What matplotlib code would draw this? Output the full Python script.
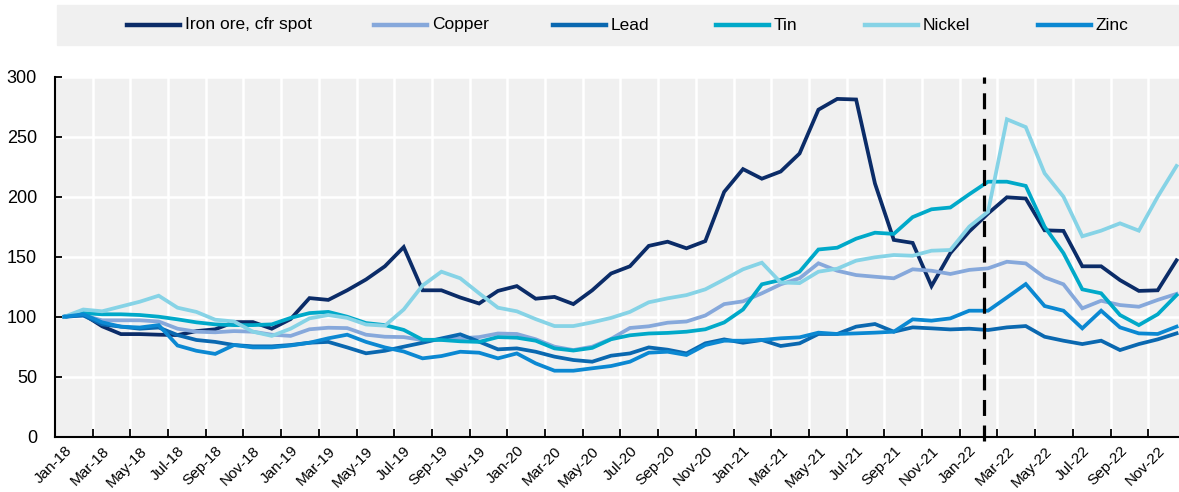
import numpy as np
import matplotlib
matplotlib.use("Agg")
import matplotlib.pyplot as plt
from matplotlib.lines import Line2D
from matplotlib.patches import Rectangle

plt.rcParams['font.family'] = ['Liberation Sans', 'DejaVu Sans']

# monthly index, Jan-18 = 100
months = [f"{m}-{y}" for y in range(18, 23)
          for m in ["Jan", "Feb", "Mar", "Apr", "May", "Jun",
                    "Jul", "Aug", "Sep", "Oct", "Nov", "Dec"]]

iron_ore = [100, 102, 92, 85.5, 85.5, 85, 84.7, 88, 89.5, 95.5, 95.5, 90,
            98, 115.5, 114, 122, 131, 142, 158, 122, 122, 116, 111, 121.5,
            125.5, 115, 116.5, 110.5, 122, 136, 142, 159, 162.5, 157, 163, 204,
            223, 215, 221, 236, 272.5, 281.5, 281, 211, 164, 161.5, 125.5, 153,
            171, 186, 199.5, 198.5, 172, 171.5, 142, 142, 130.5, 121.5, 122, 147]
copper = [100, 101, 97, 97, 97, 96, 90, 87.5, 87, 88, 87.5, 85,
          84, 89.5, 90.8, 90.5, 85, 83.3, 83, 80.5, 81, 82, 83, 86,
          85.6, 81.2, 75, 72.2, 75, 81.5, 90.6, 92, 95, 96, 101, 110.5,
          112.8, 119.5, 127, 132, 144.5, 138.3, 134.7, 133.3, 132, 139.5, 138.3, 135.6,
          139, 140.3, 145.8, 144.4, 132.8, 127, 107, 113.3, 109.7, 108.3, 114, 119]
lead = [100, 101, 93.6, 91.7, 90, 91, 84.7, 80.6, 79, 76.4, 75.3, 75.3,
        76.4, 78.3, 79, 74.4, 69.5, 71.6, 75, 78.3, 81.9, 85.3, 79.2, 72.8,
        73.6, 70.8, 66.7, 63.9, 62.5, 67.5, 69.4, 74.4, 72.5, 69.4, 77.8, 81.1,
        78.3, 80.6, 75.6, 77.8, 85.6, 85.6, 91.7, 93.9, 87.5, 91.1, 90.3, 89.4,
        90, 88.9, 91.1, 92.2, 83.3, 80, 77.2, 80, 72.2, 77.2, 81.1, 86.1]
tin = [100, 103, 102, 102, 101.4, 100, 97.8, 95.3, 93.6, 93, 93, 93.6,
       99, 103, 104, 100, 94.7, 93, 89, 80.8, 80.6, 79.5, 79, 83,
       82.5, 80, 73.6, 71.8, 74, 81.2, 84.5, 86, 86.5, 87.5, 89.5, 95.2,
       106, 127, 130.6, 137.5, 156, 157.5, 165, 170, 169, 183, 189.5, 191,
       202, 212.5, 212.5, 209, 175, 153, 122.8, 119.5, 101.4, 93, 102, 118]
nickel = [100, 106, 104.5, 108.5, 112.5, 117.5, 107.5, 104, 97.5, 96, 87.5, 84,
          90, 98.6, 101.4, 99, 93.5, 92.5, 106, 126, 137.5, 132, 119.5, 107.5,
          104.5, 98, 92.2, 92.2, 95.3, 99, 104, 112, 115.3, 118, 122.8, 131,
          139.5, 145, 128.5, 128, 137.5, 140, 146.7, 149.5, 151.4, 150.8, 155, 155.6,
          175, 187.5, 264.5, 258, 219.5, 200, 167, 171.7, 177.8, 171.7, 200, 225.6]
zinc = [100, 102, 95.3, 91.7, 91, 93, 76, 71.6, 69, 76.4, 74.4, 74.4,
        76, 78.3, 82, 85, 79, 74.4, 71, 65.3, 67.2, 70.8, 70, 65.3,
        69.4, 61.1, 55, 55, 57, 58.9, 62.5, 70, 70.8, 68.1, 76.4, 80,
        80, 80.6, 82, 82.8, 86.7, 85.6, 86.1, 86.7, 87.5, 97.8, 96.7, 98.6,
        105, 105, 116, 127.2, 108.9, 105, 90.3, 105, 91.1, 86.1, 85.6, 91.7]

series = [("Iron ore, cfr spot", iron_ore, "#0b2c68"),
          ("Copper", copper, "#86a8db"),
          ("Lead", lead, "#0a68b0"),
          ("Tin", tin, "#00a9c9"),
          ("Nickel", nickel, "#86d3e6"),
          ("Zinc", zinc, "#0b88d2")]
event_pos = 48.77  # late Feb-22

W, H = 1179, 492
fig = plt.figure(figsize=(W / 100, H / 100), dpi=100)
ax = fig.add_axes([55 / W, (H - 436.7) / H, (W - 55) / W, 360 / H])
ax.set_facecolor("#f0f0f0")

x = np.arange(len(months))
for name, vals, col in series:
    ax.plot(x, vals, color=col, lw=2.7, solid_joinstyle="miter", zorder=3)

ax.axvline(event_pos, ymin=-0.012, ymax=1, color="black", lw=2.3,
           linestyle=(0, (5, 3)), clip_on=False, zorder=4)

ax.set_ylim(0, 300)
ax.set_xlim(-0.5, 59.13)
ax.set_yticks(range(0, 301, 50))
ax.set_xticks(x[::2])
ax.set_xticklabels(months[::2], rotation=45, ha="right", va="top",
                   rotation_mode="anchor", fontsize=11)
ax.set_xticks(np.arange(1.5, 59, 2), minor=True)
ax.tick_params(axis="x", which="major", length=0, pad=5)
ax.tick_params(axis="x", which="minor", direction="in", length=6, width=1.3)
ax.tick_params(axis="y", direction="in", length=5, width=1.3, pad=13, labelsize=13)

ax.grid(axis="y", color="white", lw=1.8)
ax.grid(axis="x", which="minor", color="white", lw=1.8)
ax.set_axisbelow(True)
for s in ["top", "right"]:
    ax.spines[s].set_visible(False)
for s in ["left", "bottom"]:
    ax.spines[s].set_linewidth(1.5)

# legend band across the top
fig.patches.append(Rectangle((57 / W, 1 - 45 / H), (W - 57) / W, 40 / H,
                             transform=fig.transFigure, color="#f0f0f0", zorder=0))
handle_x = [127, 374, 553, 716, 865, 1038]
ly = 1 - 25 / H
for (name, vals, col), hx in zip(series, handle_x):
    fig.add_artist(Line2D([hx / W, (hx + 53) / W], [ly, ly], color=col, lw=3.2,
                          transform=fig.transFigure))
    fig.text((hx + 58) / W, ly, name, fontsize=12.5, va="center", ha="left")

fig.savefig("out.png", dpi=100)
